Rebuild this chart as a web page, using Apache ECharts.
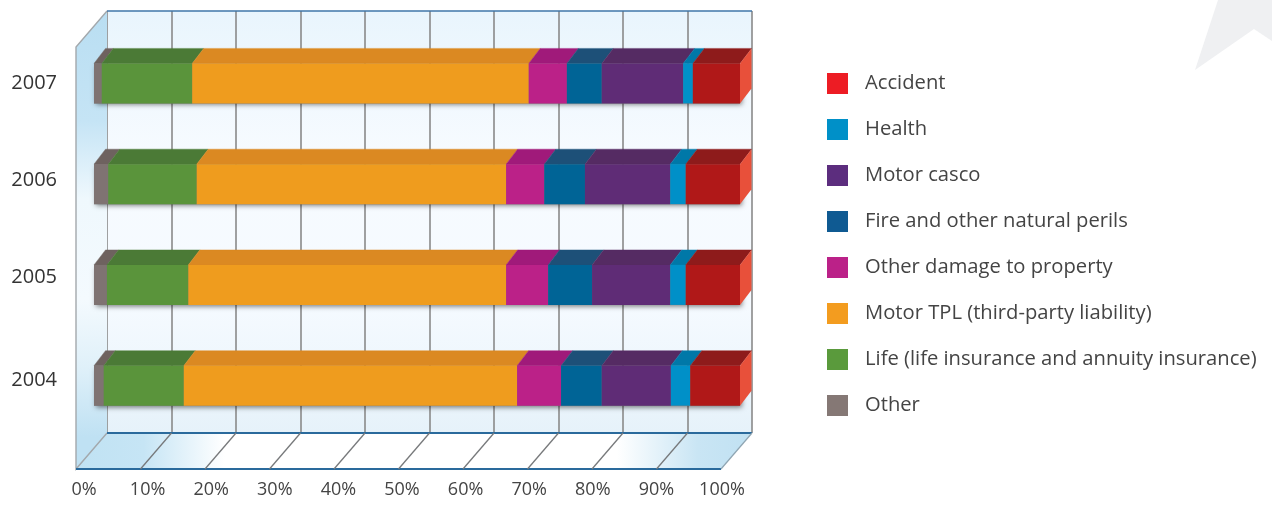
<!DOCTYPE html>
<html><head><meta charset="utf-8">
<style>html,body{margin:0;padding:0;background:#fff}#c{width:1272px;height:505px}</style>
<script src="https://cdn.jsdelivr.net/npm/echarts@6/dist/echarts.min.js"></script>
</head><body><div id="c"></div>
<script>
const years = ["2004", "2005", "2006", "2007"];
const xTicks = [0, 10, 20, 30, 40, 50, 60, 70, 80, 90, 100];
const seriesNames = ["Other", "Life (life insurance and annuity insurance)", "Motor TPL (third-party liability)", "Other damage to property", "Fire and other natural perils", "Motor casco", "Health", "Accident"];
const other = [1.5, 2.0, 2.2, 1.2];
const life = [12.4, 12.6, 13.7, 14.0];
const motorTpl = [51.6, 49.2, 47.9, 52.1];
const otherDamage = [6.8, 6.5, 5.9, 5.9];
const fire = [6.3, 6.8, 6.3, 5.4];
const motorCasco = [10.7, 12.1, 13.2, 12.6];
const health = [3.0, 2.4, 2.4, 1.5];
const accident = [7.7, 8.4, 8.4, 7.3];
const allValues = [other, life, motorTpl, otherDamage, fire, motorCasco, health, accident];

const frontColors = ["#7f7372", "#5a943b", "#ef9c1e", "#bb2188", "#006496", "#5f2c76", "#0090c8", "#b01818"];
const topColors = ["#6e625f", "#4b7a36", "#db8922", "#a01a7a", "#1d5078", "#552b63", "#0078a8", "#8e1b1b"];
const legendColors = ["#857875", "#5a9a3c", "#f39c1f", "#bb2188", "#0f5a92", "#5c2d7e", "#0090c8", "#ed1c24"];
const sideColor = "#e8503a";
const yearLift = { "2004": 11, "2005": 15, "2006": 8, "2007": 0 };

const barH = 40, depthX = 11.5, depthY = 15, floorX = -31, floorY = 36;
const grad = (x, y, x2, y2, stops) => ({ type: "linear", x, y, x2, y2, colorStops: stops.map(s => ({ offset: s[0], color: s[1] })) });

// [start, end, yearIndex, seriesIndex]
const segments = [];
years.forEach((_, yi) => {
  let acc = 0;
  allValues.forEach((arr, si) => { segments.push([acc, acc + arr[yi], yi, si]); acc += arr[yi]; });
});

const rich = {};
years.forEach(y => { rich["y" + y] = { fontSize: 20, color: "#333", fontFamily: "Open Sans", padding: [0, 0, yearLift[y], 0] }; });

const option = {
  animation: false,
  backgroundColor: "#fff",
  textStyle: { fontFamily: "Open Sans" },
  graphic: [{ type: "polygon", z: -1, silent: true, shape: { points: [[1218, 0], [1195, 70], [1254, 29], [1272, 41], [1272, 0]] }, style: { fill: "#eff0f2" } }],
  legend: {
    orient: "vertical", left: 822, top: 68, itemWidth: 21, itemHeight: 21, itemGap: 25, selectedMode: false,
    textStyle: { fontSize: 20.2, color: "#444", fontFamily: "Open Sans", padding: [0, 0, 0, 12] },
    data: seriesNames.slice().reverse().map(n => ({ name: n, icon: "rect", itemStyle: { color: legendColors[seriesNames.indexOf(n)] } }))
  },
  grid: [
    { left: 94, width: 646, top: 33, height: 403, containLabel: false },
    { left: 107, width: 645, top: 11, height: 422, show: true, borderWidth: 0,
      backgroundColor: grad(0, 0, 0, 1, [[0, "#e9f5fd"], [0.35, "#f7fbff"], [0.7, "#f5faff"], [1, "#e6f2fa"]]) },
    { left: 84, width: 636, top: 440, height: 38 }
  ],
  xAxis: [
    { gridIndex: 0, type: "value", min: 0, max: 100, show: false },
    { gridIndex: 1, type: "value", min: 0, max: 100, interval: 10, axisLine: { show: false }, axisTick: { show: false }, axisLabel: { show: false },
      splitLine: { show: true, lineStyle: { color: "#8a8a8a", width: 1.6 } } },
    { gridIndex: 2, type: "value", min: 0, max: 100, interval: 10, axisLine: { show: false }, axisTick: { show: false }, splitLine: { show: false },
      axisLabel: { margin: 3, fontSize: 18, color: "#444", fontFamily: "Open Sans", showMinLabel: true, showMaxLabel: true,
        formatter: v => v === 100 ? "{l|100%}" : v + "%",
        rich: { l: { fontSize: 18, color: "#444", fontFamily: "Open Sans", padding: [0, 0, 0, 4] } } } }
  ],
  yAxis: [
    { gridIndex: 0, type: "category", data: years, axisLine: { show: false }, axisTick: { show: false }, splitLine: { show: false },
      axisLabel: { margin: 37, formatter: v => `{y${v}|${v}}`, rich } },
    { gridIndex: 1, type: "value", min: 0, max: 1, show: false, splitLine: { show: false } },
    { gridIndex: 2, type: "value", min: 0, max: 1, show: false, splitLine: { show: false } }
  ],
  series: [
    // walls, floor and their edges
    { type: "custom", name: "frame", xAxisIndex: 1, yAxisIndex: 1, z: 1, silent: true, data: [[0]], encode: { x: 0 },
      renderItem(p, api) {
        const a = api.coord([0, 0]), b = api.coord([100, 0]), c = api.coord([100, 1]), d = api.coord([0, 1]);
        const f = q => [q[0] + floorX, q[1] + floorY];
        return { type: "group", children: [
          { type: "polygon", shape: { points: [d, a, f(a), f(d)] },
            style: { fill: grad(0, 0, 0, 1, [[0, "#b9def2"], [0.24, "#c5e4f5"], [0.41, "#eff8fd"], [0.63, "#f4fafe"], [0.78, "#dff0f9"], [0.93, "#bfe1f3"], [1, "#bfe1f3"]]) } },
          { type: "polygon", shape: { points: [a, b, f(b), f(a)] },
            style: { fill: grad(0, 0, 1, 0, [[0, "#c0e2f3"], [0.1, "#c6e5f5"], [0.22, "#ffffff"], [0.8, "#ffffff"], [0.92, "#c9e5f4"], [1, "#c0e1f2"]]) } },
          { type: "polyline", shape: { points: [a, f(a), f(d), d] }, style: { stroke: "#a3a8ac", fill: null, lineWidth: 1.4 } },
          { type: "line", shape: { x1: d[0], y1: d[1], x2: c[0], y2: c[1] }, style: { stroke: "#3f76a8", lineWidth: 1.6 } },
          { type: "line", shape: { x1: a[0], y1: a[1], x2: b[0], y2: b[1] }, style: { stroke: "#2a6a9c", lineWidth: 2 } },
          { type: "line", shape: { x1: f(a)[0], y1: f(a)[1], x2: f(b)[0], y2: f(b)[1] }, style: { stroke: "#2a6a9c", lineWidth: 2 } },
          { type: "polyline", shape: { points: [b, f(b)] }, style: { stroke: "#8fa5b2", fill: null, lineWidth: 1.2 } }
        ] };
      } },
    // floor grid lines
    { type: "custom", name: "floorLines", xAxisIndex: 1, yAxisIndex: 1, z: 2, silent: true, data: xTicks.slice(1, -1).map(t => [t]), encode: { x: 0 },
      renderItem(p, api) {
        const q = api.coord([api.value(0), 0]);
        return { type: "line", shape: { x1: q[0], y1: q[1], x2: q[0] + floorX, y2: q[1] + floorY }, style: { stroke: "#77797b", lineWidth: 1.3 } };
      } },
    // bar shadow
    { type: "custom", name: "barShadow", xAxisIndex: 0, yAxisIndex: 0, z: 3, silent: true, data: years.map((_, i) => [100, i]), encode: { x: 0, y: 1 },
      renderItem(p, api) {
        const r = api.coord([100, api.value(1)]), l = api.coord([0, api.value(1)]);
        return { type: "rect", shape: { x: l[0], y: l[1] - barH / 2, width: r[0] - l[0], height: barH },
          style: { fill: "#777", shadowBlur: 5, shadowColor: "rgba(0,0,0,0.5)", shadowOffsetX: 2, shadowOffsetY: 2 } };
      } },
    // top faces and right side
    { type: "custom", name: "topFaces", xAxisIndex: 0, yAxisIndex: 0, z: 4, silent: true, data: segments, encode: { x: [0, 1], y: 2 },
      renderItem(p, api) {
        const s = api.coord([api.value(0), api.value(2)]), e = api.coord([api.value(1), api.value(2)]);
        const t = s[1] - barH / 2;
        const kids = [{ type: "polygon", shape: { points: [[s[0], t], [e[0], t], [e[0] + depthX, t - depthY], [s[0] + depthX, t - depthY]] },
          style: { fill: topColors[api.value(3)], stroke: topColors[api.value(3)], lineWidth: 0.4 } }];
        if (api.value(3) === seriesNames.length - 1) kids.push({ type: "polygon",
          shape: { points: [[e[0], t], [e[0] + depthX, t - depthY], [e[0] + depthX, t - depthY + barH], [e[0], t + barH]] }, style: { fill: sideColor } });
        return { type: "group", children: kids };
      } }
  ].concat(seriesNames.map((n, i) => ({
    type: "bar", name: n, stack: "total", xAxisIndex: 0, yAxisIndex: 0, z: 5, barWidth: barH, silent: true,
    itemStyle: { color: frontColors[i] }, data: allValues[i]
  })))
};
const chart = echarts.init(document.getElementById("c"), null, { renderer: "canvas" });
chart.setOption(option);
</script></body></html>
